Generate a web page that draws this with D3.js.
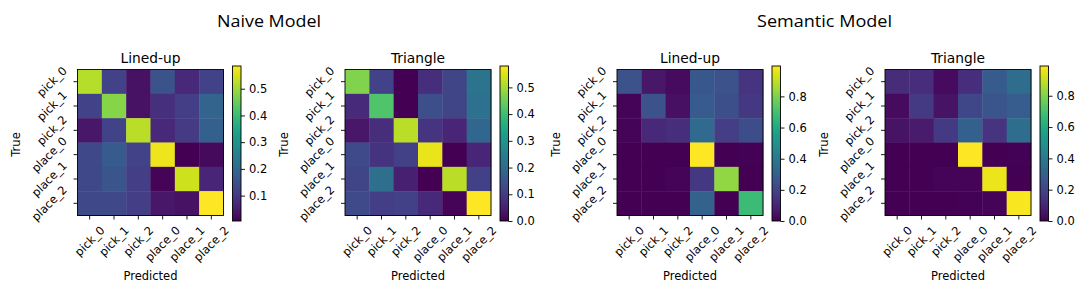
<!DOCTYPE html>
<html>
<head>
<meta charset="utf-8">
<script src="https://cdn.jsdelivr.net/npm/d3@7"></script>
<style>
  body { margin: 0; background: #fff; }
  svg { display: block; }
</style>
</head>
<body>
<svg id="chart" width="1084" height="289"></svg>
<script>
// class labels (same on both axes)
const classes = ["pick_0", "pick_1", "pick_2", "place_0", "place_1", "place_2"];

// normalized confusion matrices, rows = true class, cols = predicted
const naiveLinedUp = [
    [0.52, 0.12, 0.03, 0.15, 0.07, 0.12],
    [0.12, 0.48, 0.03, 0.085, 0.11, 0.19],
    [0.04, 0.12, 0.525, 0.07, 0.105, 0.18],
    [0.13, 0.17, 0.12, 0.57, 0.005, 0.02],
    [0.13, 0.155, 0.11, 0.01, 0.54, 0.065],
    [0.13, 0.13, 0.11, 0.04, 0.03, 0.585]
];
const naiveTriangle = [
    [0.47, 0.115, 0.0, 0.075, 0.12, 0.22],
    [0.07, 0.42, 0.0, 0.14, 0.12, 0.215],
    [0.035, 0.075, 0.52, 0.09, 0.06, 0.19],
    [0.13, 0.085, 0.11, 0.56, 0.0, 0.06],
    [0.12, 0.21, 0.05, 0.0, 0.52, 0.11],
    [0.13, 0.105, 0.11, 0.065, 0.005, 0.58]
];
const semanticLinedUp = [
    [0.25, 0.06, 0.03, 0.27, 0.25, 0.15],
    [0.01, 0.25, 0.04, 0.28, 0.24, 0.16],
    [0.01, 0.11, 0.13, 0.34, 0.18, 0.23],
    [0.0, 0.0, 0.0, 0.995, 0.0, 0.005],
    [0.0, 0.0, 0.01, 0.16, 0.83, 0.0],
    [0.0, 0.0, 0.0, 0.31, 0.0, 0.68]
];
const semanticTriangle = [
    [0.12, 0.125, 0.03, 0.13, 0.28, 0.35],
    [0.03, 0.17, 0.05, 0.21, 0.26, 0.29],
    [0.05, 0.07, 0.17, 0.3, 0.15, 0.35],
    [0.0, 0.0, 0.0, 0.99, 0.0, 0.005],
    [0.0, 0.0, 0.01, 0.01, 0.96, 0.0],
    [0.0, 0.0, 0.0, 0.005, 0.01, 0.98]
];

// colorbar tick values
const cbTicksNaiveLined = [0.1, 0.2, 0.3, 0.4, 0.5];
const cbTicksNaiveTri = [0.0, 0.1, 0.2, 0.3, 0.4, 0.5];
const cbTicksSemantic = [0.0, 0.2, 0.4, 0.6, 0.8];

const groupTitles = ["Naive Model", "Semantic Model"];

const svg = d3.select("#chart");
const mpl = "'DejaVu Sans', sans-serif";

// layout
const size = 146, mapTop = 69.5;
const cbTop = 66, cbBottom = 221, cbW = 8.5, cbGap = 9;
const tickLen = 4, tickPad = 4;
const fs = 11.5, lineH = fs * 1.164;

const panels = [
    { title: "Lined-up", data: naiveLinedUp, cbTicks: cbTicksNaiveLined, left: 77.5 },
    { title: "Triangle", data: naiveTriangle, cbTicks: cbTicksNaiveTri, left: 345 },
    { title: "Lined-up", data: semanticLinedUp, cbTicks: cbTicksSemantic, left: 617 },
    { title: "Triangle", data: semanticTriangle, cbTicks: cbTicksSemantic, left: 885 }
];

// big group titles (Calibri-like in the original, fitted to the same width)
svg.selectAll(".group-title")
    .data(groupTitles)
    .enter()
    .append("text")
    .attr("class", "group-title")
    .attr("x", (d, i) => i === 0 ? 269 : 824.5)
    .attr("y", 26.7)
    .attr("text-anchor", "middle")
    .attr("textLength", (d, i) => i === 0 ? 104 : 135)
    .attr("lengthAdjust", "spacingAndGlyphs")
    .style("font-family", "'Open Sans', sans-serif")
    .style("font-size", "17px")
    .attr("fill", "#000")
    .text(d => d);

const defs = svg.append("defs");

panels.forEach((p, k) => {
    const g = svg.append("g");
    const x = d3.scaleBand().domain(classes).range([p.left, p.left + size]);
    const y = d3.scaleBand().domain(classes).range([mapTop, mapTop + size]);
    const flat = p.data.flat();
    const vmin = d3.min(flat), vmax = d3.max(flat);
    const color = d3.scaleSequential(d3.interpolateViridis).domain([vmin, vmax]);

    const cells = [];
    p.data.forEach((row, i) => row.forEach((v, j) => cells.push({ r: classes[i], c: classes[j], v: v })));

    g.selectAll(".cell")
        .data(cells)
        .enter()
        .append("rect")
        .attr("x", d => x(d.c))
        .attr("y", d => y(d.r))
        .attr("width", x.bandwidth() + 0.4)
        .attr("height", y.bandwidth() + 0.4)
        .attr("fill", d => color(d.v));

    // spines
    g.append("rect")
        .attr("x", p.left).attr("y", mapTop)
        .attr("width", size).attr("height", size)
        .attr("fill", "none").attr("stroke", "#000").attr("stroke-width", 0.9);

    // tick marks
    g.selectAll(".xt").data(classes).enter().append("line")
        .attr("x1", d => x(d) + x.bandwidth() / 2).attr("x2", d => x(d) + x.bandwidth() / 2)
        .attr("y1", mapTop + size).attr("y2", mapTop + size + tickLen)
        .attr("stroke", "#000").attr("stroke-width", 0.9);
    g.selectAll(".yt").data(classes).enter().append("line")
        .attr("y1", d => y(d) + y.bandwidth() / 2).attr("y2", d => y(d) + y.bandwidth() / 2)
        .attr("x1", p.left - tickLen).attr("x2", p.left)
        .attr("stroke", "#000").attr("stroke-width", 0.9);

    // rotated x tick labels, bbox centred under the tick
    g.selectAll(".xl").data(classes).enter().append("text")
        .style("font-family", mpl).style("font-size", fs + "px")
        .attr("text-anchor", "middle").attr("dominant-baseline", "central")
        .text(d => d)
        .each(function (d) {
            const w = this.getComputedTextLength();
            const half = (w + lineH) / (2 * Math.SQRT2);
            const cx = x(d) + x.bandwidth() / 2;
            const cy = mapTop + size + tickLen + tickPad + half;
            d3.select(this).attr("x", cx).attr("y", cy)
                .attr("transform", `rotate(-45,${cx},${cy})`);
        });

    // rotated y tick labels, bbox right edge at the tick
    g.selectAll(".yl").data(classes).enter().append("text")
        .style("font-family", mpl).style("font-size", fs + "px")
        .attr("text-anchor", "middle").attr("dominant-baseline", "central")
        .text(d => d)
        .each(function (d) {
            const w = this.getComputedTextLength();
            const half = (w + lineH) / (2 * Math.SQRT2);
            const cy = y(d) + y.bandwidth() / 2;
            const cx = p.left - tickLen - tickPad - half;
            d3.select(this).attr("x", cx).attr("y", cy)
                .attr("transform", `rotate(-45,${cx},${cy})`);
        });

    // subplot title and axis labels
    g.append("text")
        .attr("x", p.left + size / 2).attr("y", 63)
        .attr("text-anchor", "middle")
        .style("font-family", mpl).style("font-size", "13.8px")
        .text(p.title);
    g.append("text")
        .attr("x", p.left + size / 2).attr("y", 280)
        .attr("text-anchor", "middle")
        .style("font-family", mpl).style("font-size", fs + "px")
        .text("Predicted");
    g.append("text")
        .attr("transform", `translate(${p.left - 57.5},${mapTop + size / 2 + 2}) rotate(-90)`)
        .attr("text-anchor", "middle")
        .style("font-family", mpl).style("font-size", fs + "px")
        .text("True");

    // colorbar
    const gradId = "viridis" + k;
    const grad = defs.append("linearGradient")
        .attr("id", gradId)
        .attr("x1", 0).attr("y1", 1).attr("x2", 0).attr("y2", 0);
    d3.range(0, 1.0001, 0.05).forEach(t => {
        grad.append("stop").attr("offset", t).attr("stop-color", d3.interpolateViridis(t));
    });
    const cbX = p.left + size + cbGap;
    g.append("rect")
        .attr("x", cbX).attr("y", cbTop)
        .attr("width", cbW).attr("height", cbBottom - cbTop)
        .attr("fill", `url(#${gradId})`)
        .attr("stroke", "#000").attr("stroke-width", 0.9);

    const cb = d3.scaleLinear().domain([vmin, vmax]).range([cbBottom, cbTop]);
    const cbAxis = g.append("g")
        .attr("transform", `translate(${cbX + cbW},0)`)
        .call(d3.axisRight(cb).tickValues(p.cbTicks).tickFormat(d3.format(".1f"))
            .tickSize(tickLen).tickPadding(tickPad));
    cbAxis.select(".domain").remove();
    cbAxis.selectAll("line").attr("stroke-width", 0.9);
    cbAxis.selectAll("text")
        .style("font-family", mpl).style("font-size", fs + "px").attr("fill", "#000");
});
</script>
</body>
</html>
